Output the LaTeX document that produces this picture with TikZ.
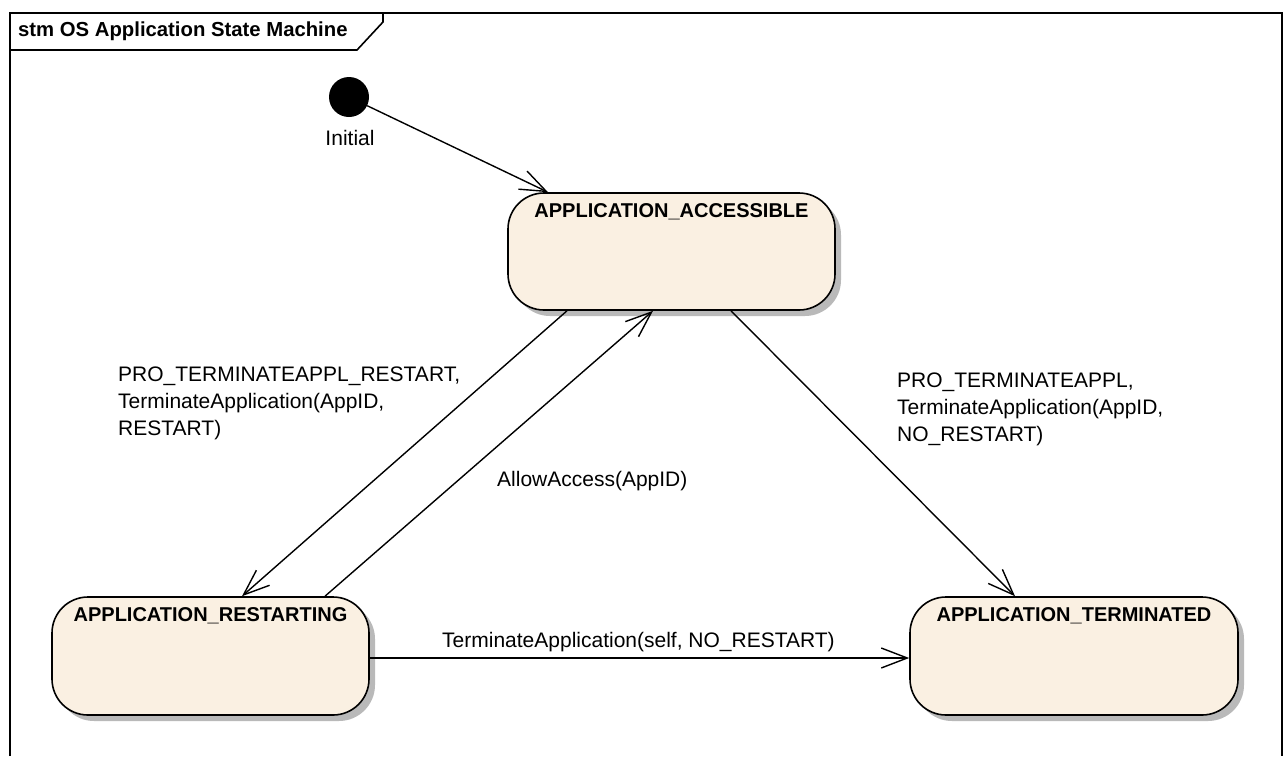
\documentclass[tikz,border=0pt]{standalone}
\usepackage{fontspec}
\setmainfont{Liberation Sans}
\usetikzlibrary{arrows.meta,calc}
\definecolor{statefill}{RGB}{250,240,226}
\definecolor{shadowgray}{RGB}{185,185,185}
\newcommand{\lblfont}{\fontsize{21}{27}\selectfont}
\newcommand{\statefont}{\fontsize{20}{24}\selectfont\bfseries}
\begin{document}
\begin{tikzpicture}[x=1pt,y=-1pt,
  statebox/.style={draw=black, line width=1.6pt, fill=statefill, rounded corners=36pt,
    preaction={fill=shadowgray, draw=none, transform canvas={xshift=6pt, yshift=-6pt}}},
  statename/.style={label={[anchor=center, yshift=-19.5pt, font=\statefont]north:#1}},
  trans/.style={draw=black, line width=1.4pt, -{Straight Barb[length=26pt, width=20pt, line width=1.4pt]}},
  translbl/.style={font=\lblfont, inner sep=0pt, align=left}]
\useasboundingbox (0,0) rectangle (1288,756);
% frame
\draw[line width=1.6pt] (10,756) -- (10,13) -- (1282,13) -- (1282,756);
\draw[line width=1.6pt] (10,50) -- (357,50) -- (383,22) -- (383,13);
\node[anchor=west, inner sep=0pt, font=\fontsize{20.3}{24}\selectfont\bfseries] (title) at (18,31) {stm OS Application State Machine};
% initial
\node[circle, fill=black, minimum size=40pt, inner sep=0pt] (init) at (349,97) {};
\node[font=\lblfont, inner sep=0pt] (initlbl) at (350,138) {Initial};
% states
\node[statebox, statename={APPLICATION\_ACCESSIBLE}, minimum width=327pt, minimum height=117pt] (acc) at (671.5,251.5) {};
\node[statebox, statename={APPLICATION\_RESTARTING}, minimum width=317pt, minimum height=118pt] (res) at (210.5,656) {};
\node[statebox, statename={APPLICATION\_TERMINATED}, minimum width=328pt, minimum height=118pt] (ter) at (1074,656) {};
% transitions
\draw[trans] (init) -- ($(acc.north)+(-123.5,0)$);
\draw[trans] ($(acc.south)+(-104.5,0)$) -- ($(res.north)+(31.5,0)$);
\draw[trans] ($(res.north)+(114.5,0)$) -- ($(acc.south)+(-18.5,0)$);
\draw[trans] ($(acc.south)+(59.5,0)$) -- ($(ter.north)+(-59,0)$);
\draw[trans] ($(res.east)+(0,2)$) -- ($(ter.west)+(0,2)$);
% labels
\node[translbl, anchor=west] (l1) at (118,403) {PRO\_TERMINATEAPPL\_RESTART,\\TerminateApplication(AppID,\\RESTART)};
\node[translbl, anchor=west] (l2) at (497,481) {AllowAccess(AppID)};
\node[translbl, anchor=west] (l3) at (897,409) {PRO\_TERMINATEAPPL,\\TerminateApplication(AppID,\\NO\_RESTART)};
\node[translbl, anchor=west] (l4) at (442,642) {TerminateApplication(self, NO\_RESTART)};
\end{tikzpicture}
\end{document}
